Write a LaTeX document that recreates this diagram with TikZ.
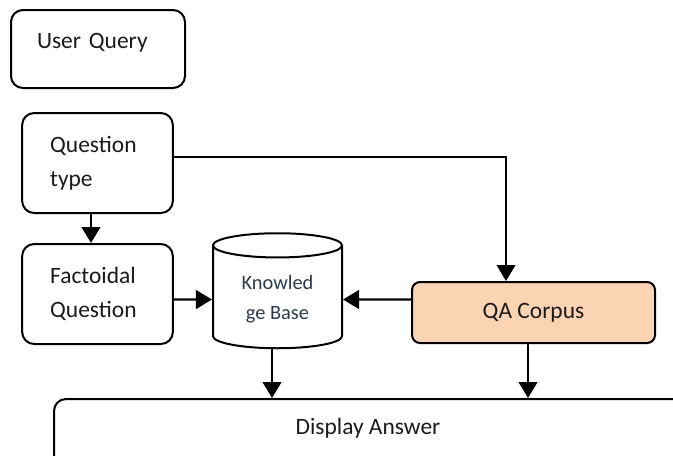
\documentclass[tikz,border=0pt]{standalone}
\usepackage{fontspec}
\setmainfont{Carlito}
\usetikzlibrary{arrows.meta,shapes.geometric}
\definecolor{Peach}{HTML}{FBD4B4}
\definecolor{Ink}{HTML}{1A1A1A}
\definecolor{Slate}{HTML}{2A3A50}

\begin{document}
\begin{tikzpicture}[x=0.75pt,y=-0.75pt,>={Triangle[width=14pt,length=12pt]},
  every node/.style={font=\fontsize{17.6}{25.5}\selectfont,text=Ink},
  box/.style={draw,line width=1.5pt,rounded corners=9pt,align=left,inner ysep=0pt},
  link/.style={line width=1.6pt,->}]
\useasboundingbox (0,0) rectangle (673,455);
\clip (0,0) rectangle (673,455);
\node[box,inner xsep=19.5pt,text width=91.5pt,text height=28.5pt,text depth=30pt] (uq) at (98,49){User Query};
\node[box,inner xsep=21pt,text width=71pt,minimum height=75pt] (qt) at (97.5,163){Question\\type};
\node[box,inner xsep=21pt,text width=71pt,minimum height=75pt] (fq) at (97.5,294){Factoidal\\Question};
\node[cylinder,shape border rotate=90,aspect=0.3,draw,line width=1.5pt,minimum width=96.75pt,minimum height=86.25pt,
  align=center,font=\fontsize{15.3}{22.5}\selectfont,text=Slate] (kb) at (277.5,299.5){Knowled\\ge Base};
\node[box,fill=Peach,rounded corners=6pt,align=center,minimum width=182.25pt,minimum height=45.75pt] (qa) at (533.5,312.5){QA Corpus};
\node[draw,line width=1.5pt,rounded corners=9pt,anchor=north west,minimum width=560pt,minimum height=80pt] (ans) at (53,398){};
\node (anstxt) at (368,428){Display Answer};
% connectors
\draw[link,line width=1.2pt] (qt.east |- 0,157) -| (qa.north -| 506,0);
\draw[link] (qt.south -| 91,0) -- (fq.north -| 91,0);
\draw[link] (fq.east |- kb) -- (kb);
\draw[link] (qa.west |- kb) -- (kb.east);
\draw[link] (kb.south -| 272,0) -- (ans.north -| 272,0);
\draw[link] (qa.south -| 528,0) -- (ans.north -| 528,0);
\end{tikzpicture}
\end{document}
